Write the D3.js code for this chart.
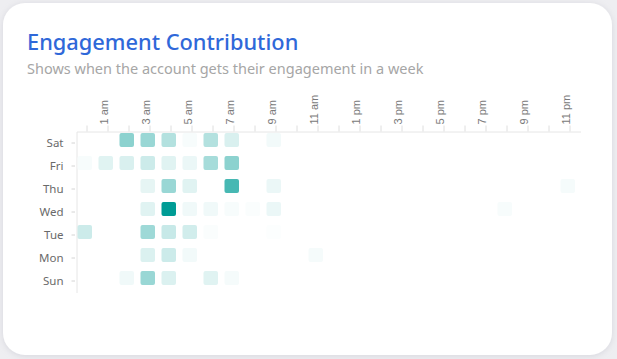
<!DOCTYPE html>
<html>
<head>
<meta charset="utf-8">
<script src="https://cdn.jsdelivr.net/npm/d3@7"></script>
<style>
  html, body { margin: 0; padding: 0; background: #eeeef1; }
  body { width: 617px; height: 359px; overflow: hidden; }
  svg { display: block; font-family: "Noto Sans", sans-serif; }
</style>
</head>
<body>
<div id="chart"></div>
<script>
// rows top to bottom
const days = ["Sat", "Fri", "Thu", "Wed", "Tue", "Mon", "Sun"];
const hours = ["12 am", "1 am", "2 am", "3 am", "4 am", "5 am", "6 am", "7 am", "8 am", "9 am", "10 am", "11 am",
  "12 pm", "1 pm", "2 pm", "3 pm", "4 pm", "5 pm", "6 pm", "7 pm", "8 pm", "9 pm", "10 pm", "11 pm"];

// engagement intensity per hour (0-100)
const sat = [0, 0, 45, 40, 30, 3, 30, 15, 0, 5, 0, 0, 0, 0, 0, 0, 0, 0, 0, 0, 0, 0, 0, 0];
const fri = [3, 12, 15, 20, 12, 8, 35, 45, 0, 0, 0, 0, 0, 0, 0, 0, 0, 0, 0, 0, 0, 0, 0, 0];
const thu = [0, 0, 0, 10, 40, 12, 0, 72, 0, 8, 0, 0, 0, 0, 0, 0, 0, 0, 0, 0, 0, 0, 0, 4];
const wed = [0, 0, 0, 12, 100, 6, 6, 3, 2, 8, 0, 0, 0, 0, 0, 0, 0, 0, 0, 0, 3, 0, 0, 0];
const tue = [20, 0, 0, 38, 22, 18, 2, 0, 0, 1, 0, 0, 0, 0, 0, 0, 0, 0, 0, 0, 0, 0, 0, 0];
const mon = [0, 0, 0, 14, 20, 5, 0, 0, 0, 0, 0, 4, 0, 0, 0, 0, 0, 0, 0, 0, 0, 0, 0, 0];
const sun = [0, 0, 6, 40, 14, 0, 12, 4, 0, 0, 0, 0, 0, 0, 0, 0, 0, 0, 0, 0, 0, 0, 0, 0];

const rows = [sat, fri, thu, wed, tue, mon, sun];

const width = 617, height = 359;

const svg = d3.select("#chart").append("svg")
  .attr("width", width)
  .attr("height", height);

// card with soft shadow
const defs = svg.append("defs");
const shadow = defs.append("filter").attr("id", "shadow")
  .attr("x", "-10%").attr("y", "-10%").attr("width", "120%").attr("height", "120%");
shadow.append("feDropShadow")
  .attr("dx", 0).attr("dy", 1).attr("stdDeviation", 3)
  .attr("flood-color", "#b8b8c4").attr("flood-opacity", 0.45);

svg.append("rect")
  .attr("x", 3).attr("y", 3)
  .attr("width", 609).attr("height", 352)
  .attr("rx", 22)
  .attr("fill", "#ffffff")
  .attr("filter", "url(#shadow)");

svg.append("text")
  .attr("x", 27).attr("y", 50)
  .attr("font-size", 21.8)
  .attr("font-weight", 500)
  .attr("fill", "#2f68d9")
  .text("Engagement Contribution");

svg.append("text")
  .attr("x", 27).attr("y", 74)
  .attr("font-size", 14.5)
  .attr("fill", "#a6a6a6")
  .text("Shows when the account gets their engagement in a week");

// scales
const x = d3.scaleBand()
  .domain(d3.range(hours.length))
  .range([76.5, 580.5]);

const y = d3.scaleBand()
  .domain(days)
  .range([131.5, 292.5]);

const color = d3.scaleLinear()
  .domain([0, 100])
  .range(["#ffffff", "#009c95"]);

// top axis
const xAxis = svg.append("g")
  .attr("transform", `translate(0,${y.range()[0]})`)
  .call(d3.axisTop(x).tickSize(6).tickSizeOuter(0).tickFormat(""));

xAxis.select(".domain").attr("stroke", "#e6e6e6");
xAxis.selectAll(".tick line").attr("stroke", "#dedede");

xAxis.selectAll(".tick")
  .filter(d => d % 2 === 1)
  .append("text")
  .attr("transform", "translate(0,-7) rotate(-90)")
  .attr("text-anchor", "start")
  .attr("fill", "#7a7a7a")
  .attr("font-size", 11)
  .text(d => hours[d]);

// left axis
const yAxis = svg.append("g")
  .attr("transform", `translate(${x.range()[0]},0)`)
  .call(d3.axisLeft(y).tickSize(5).tickSizeOuter(0).tickPadding(8));

yAxis.select(".domain").attr("stroke", "#e6e6e6");
yAxis.selectAll(".tick line").attr("stroke", "#d4d4d4").attr("x2", -5).attr("x1", -1.5);
yAxis.selectAll(".tick text")
  .attr("fill", "#6a6a6a")
  .attr("font-size", 11.5)
  .attr("font-family", "\"Noto Sans\", sans-serif");

// cells
const cells = [];
rows.forEach((vals, i) => {
  vals.forEach((v, h) => {
    if (v > 0) cells.push({ day: days[i], hour: h, value: v });
  });
});

svg.append("g")
  .selectAll("rect")
  .data(cells)
  .join("rect")
  .attr("x", d => x(d.hour) + 1)
  .attr("y", d => y(d.day) + 1.5)
  .attr("width", 14.5)
  .attr("height", 14)
  .attr("rx", 2)
  .attr("fill", d => color(d.value));
</script>
</body>
</html>
